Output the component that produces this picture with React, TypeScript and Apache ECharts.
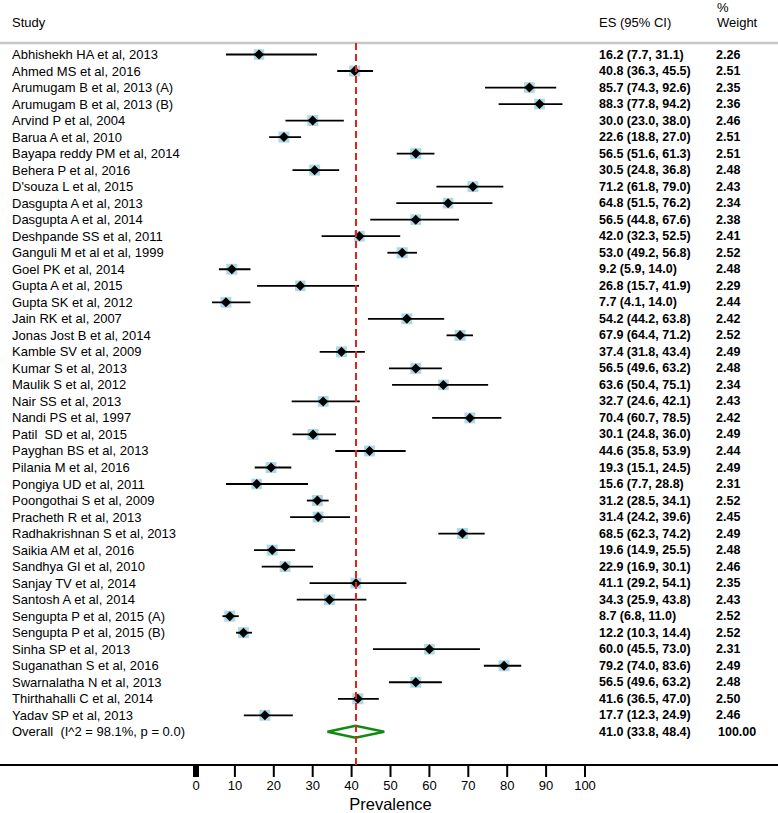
import React, { useEffect, useRef } from "react";
import * as echarts from "echarts";

const studies = [
  "Abhishekh HA et al, 2013",
  "Ahmed MS et al, 2016",
  "Arumugam B et al, 2013 (A)",
  "Arumugam B et al, 2013 (B)",
  "Arvind P et al, 2004",
  "Barua A et al, 2010",
  "Bayapa reddy PM et al, 2014",
  "Behera P et al, 2016",
  "D'souza L et al, 2015",
  "Dasgupta A et al, 2013",
  "Dasgupta A et al, 2014",
  "Deshpande SS et al, 2011",
  "Ganguli M et al et al, 1999",
  "Goel PK et al, 2014",
  "Gupta A et al, 2015",
  "Gupta SK et al, 2012",
  "Jain RK et al, 2007",
  "Jonas Jost B et al, 2014",
  "Kamble SV et al, 2009",
  "Kumar S et al, 2013",
  "Maulik S et al, 2012",
  "Nair SS et al, 2013",
  "Nandi PS et al, 1997",
  "Patil  SD et al, 2015",
  "Payghan BS et al, 2013",
  "Pilania M et al, 2016",
  "Pongiya UD et al, 2011",
  "Poongothai S et al, 2009",
  "Pracheth R et al, 2013",
  "Radhakrishnan S et al, 2013",
  "Saikia AM et al, 2016",
  "Sandhya GI et al, 2010",
  "Sanjay TV et al, 2014",
  "Santosh A et al, 2014",
  "Sengupta P et al, 2015 (A)",
  "Sengupta P et al, 2015 (B)",
  "Sinha SP et al, 2013",
  "Suganathan S et al, 2016",
  "Swarnalatha N et al, 2013",
  "Thirthahalli C et al, 2014",
  "Yadav SP et al, 2013",
];

const esValues = [
  16.2, 40.8, 85.7, 88.3, 30.0, 22.6, 56.5, 30.5, 71.2, 64.8, 56.5, 42.0, 53.0, 9.2,
  26.8, 7.7, 54.2, 67.9, 37.4, 56.5, 63.6, 32.7, 70.4, 30.1, 44.6, 19.3, 15.6, 31.2,
  31.4, 68.5, 19.6, 22.9, 41.1, 34.3, 8.7, 12.2, 60.0, 79.2, 56.5, 41.6, 17.7,
];

const lowerCI = [
  7.7, 36.3, 74.3, 77.8, 23.0, 18.8, 51.6, 24.8, 61.8, 51.5, 44.8, 32.3, 49.2, 5.9,
  15.7, 4.1, 44.2, 64.4, 31.8, 49.6, 50.4, 24.6, 60.7, 24.8, 35.8, 15.1, 7.7, 28.5,
  24.2, 62.3, 14.9, 16.9, 29.2, 25.9, 6.8, 10.3, 45.5, 74.0, 49.6, 36.5, 12.3,
];

const upperCI = [
  31.1, 45.5, 92.6, 94.2, 38.0, 27.0, 61.3, 36.8, 79.0, 76.2, 67.6, 52.5, 56.8, 14.0,
  41.9, 14.0, 63.8, 71.2, 43.4, 63.2, 75.1, 42.1, 78.5, 36.0, 53.9, 24.5, 28.8, 34.1,
  39.6, 74.2, 25.5, 30.1, 54.1, 43.8, 11.0, 14.4, 73.0, 83.6, 63.2, 47.0, 24.9,
];

const weights = [
  2.26, 2.51, 2.35, 2.36, 2.46, 2.51, 2.51, 2.48, 2.43, 2.34, 2.38, 2.41, 2.52, 2.48,
  2.29, 2.44, 2.42, 2.52, 2.49, 2.48, 2.34, 2.43, 2.42, 2.49, 2.44, 2.49, 2.31, 2.52,
  2.45, 2.49, 2.48, 2.46, 2.35, 2.43, 2.52, 2.52, 2.31, 2.49, 2.48, 2.50, 2.46,
];

const overallLabel = "Overall  (I^2 = 98.1%, p = 0.0)";
const overallEs = [41.0, 33.8, 48.4];
const overallWeight = "100.00";

const xTicks = [0, 10, 20, 30, 40, 50, 60, 70, 80, 90, 100];
const xTitle = "Prevalence";

// layout constants (pixels)
const W = 778;
const H = 813;
const ZERO_PX = 196;
const PX_PER_UNIT = 3.89;
const GRID_TOP = 43;
const AXIS_Y = 765;
const ROW0_Y = 54.5;
const ROW_STEP = 16.52;
const NAME_X = 12;
const ES_X = 599;
const WT_X = 716;
const FONT = "'Liberation Sans', Arial, Helvetica, sans-serif";

const X_MIN = -ZERO_PX / PX_PER_UNIT;
const X_MAX = (W - ZERO_PX) / PX_PER_UNIT;
const Y_MIN = (GRID_TOP - ROW0_Y) / ROW_STEP;
const Y_MAX = (AXIS_Y - ROW0_Y) / ROW_STEP;

const fmt = (v: number) => v.toFixed(1);

export default function App() {
  const ref = useRef<HTMLDivElement>(null);

  useEffect(() => {
    if (!ref.current) return;
    const chart = echarts.init(ref.current, null, { renderer: "svg" });

    const rowData = studies.map((_, i) => [i]);
    rowData.push([studies.length]);

    const rowText = (text: string, x: number, y: number, bold: boolean) => ({
      type: "text",
      x,
      y,
      style: {
        text,
        fontSize: bold ? 12.5 : 13,
        fontWeight: bold ? "bold" : "normal",
        fontFamily: FONT,
        fill: "#000",
        verticalAlign: "middle",
      },
    });

    const option: any = {
      animation: false,
      backgroundColor: "#fff",
      grid: {
        left: 0,
        right: 0,
        top: GRID_TOP,
        bottom: H - AXIS_Y,
        containLabel: false,
        outerBoundsMode: "none",
      },
      xAxis: {
        type: "value",
        min: X_MIN,
        max: X_MAX,
        axisLine: { show: true, onZero: false, lineStyle: { color: "#000", width: 2 } },
        axisTick: { show: false },
        axisLabel: { customValues: xTicks, margin: 14, color: "#000", fontSize: 13, fontFamily: FONT },
        splitLine: { show: false },
      },
      yAxis: {
        type: "value",
        inverse: true,
        min: Y_MIN,
        max: Y_MAX,
        show: false,
        splitLine: { show: false },
      },
      graphic: [
        { type: "text", left: NAME_X, top: 16, style: { text: "Study", fontSize: 13, fontFamily: FONT, fill: "#000" } },
        { type: "text", left: ES_X, top: 16, style: { text: "ES (95% CI)", fontSize: 13, fontFamily: FONT, fill: "#000" } },
        { type: "text", left: WT_X + 1, top: 1, style: { text: "%", fontSize: 13, fontFamily: FONT, fill: "#000" } },
        { type: "text", left: WT_X + 1, top: 16, style: { text: "Weight", fontSize: 13, fontFamily: FONT, fill: "#000" } },
        {
          type: "text",
          x: ZERO_PX + 50 * PX_PER_UNIT,
          y: 804,
          style: {
            text: xTitle,
            fontSize: 16.5,
            fontFamily: FONT,
            fill: "#000",
            align: "center",
            verticalAlign: "middle",
          },
        },
        {
          type: "line",
          shape: { x1: 0, y1: GRID_TOP, x2: W, y2: GRID_TOP },
          style: { stroke: "#c6c6c6", lineWidth: 2.5 },
        },
      ],
      series: [
        {
          type: "custom",
          clip: false,
          data: rowData,
          encode: { y: 0 },
          renderItem: (params: any, api: any) => {
            const i = api.value(0);
            const isOverall = i >= studies.length;
            const y = api.coord([0, i])[1];
            const children: any[] = [];
            if (isOverall) {
              const c = api.coord([overallEs[0], i]);
              const l = api.coord([overallEs[1], i]);
              const r = api.coord([overallEs[2], i]);
              const hh = 6;
              children.push({
                type: "polygon",
                shape: { points: [[l[0], y], [c[0], y - hh], [r[0], y], [c[0], y + hh]] },
                style: { fill: "none", stroke: "#128a12", lineWidth: 2.5 },
              });
              children.push(rowText(overallLabel, NAME_X, y, false));
              children.push(
                rowText(`${fmt(overallEs[0])} (${fmt(overallEs[1])}, ${fmt(overallEs[2])})`, ES_X, y, true)
              );
              children.push(rowText(overallWeight, WT_X + 2, y, true));
            } else {
              const c = api.coord([esValues[i], i]);
              const l = api.coord([lowerCI[i], i]);
              const r = api.coord([upperCI[i], i]);
              const side = 11 * Math.sqrt(weights[i] / 2.5);
              children.push({
                type: "rect",
                shape: { x: c[0] - side / 2, y: y - side / 2, width: side, height: side },
                style: { fill: "#add8e6" },
              });
              children.push({
                type: "line",
                shape: { x1: l[0], y1: y, x2: r[0], y2: y },
                style: { stroke: "#000", lineWidth: 1.8 },
              });
              const d = 5;
              children.push({
                type: "polygon",
                shape: { points: [[c[0] - d, y], [c[0], y - d], [c[0] + d, y], [c[0], y + d]] },
                style: { fill: "#000" },
              });
              children.push(rowText(studies[i], NAME_X, y, false));
              children.push(
                rowText(`${fmt(esValues[i])} (${fmt(lowerCI[i])}, ${fmt(upperCI[i])})`, ES_X, y, true)
              );
              children.push(rowText(weights[i].toFixed(2), WT_X, y, true));
            }
            return { type: "group", children };
          },
          markLine: {
            silent: true,
            symbol: "none",
            label: { show: false },
            lineStyle: { color: "#e8201c", type: [7, 4], width: 2 },
            data: [{ xAxis: overallEs[0] }],
          },
          z: 3,
        },
        {
          type: "custom",
          clip: false,
          data: xTicks.map((t) => [t]),
          encode: { x: 0 },
          renderItem: (params: any, api: any) => {
            const v = api.value(0);
            const p = api.coord([v, Y_MAX]);
            const w = v === 0 ? 6 : 2;
            return {
              type: "rect",
              shape: { x: p[0] - w / 2, y: p[1], width: w, height: 12 },
              style: { fill: "#000" },
            };
          },
          z: 4,
        },
      ],
    };

    chart.setOption(option);
    return () => chart.dispose();
  }, []);

  return (
    <div
      ref={ref}
      style={{ position: "absolute", left: 0, top: 0, width: W, height: H, background: "#fff" }}
    />
  );
}
